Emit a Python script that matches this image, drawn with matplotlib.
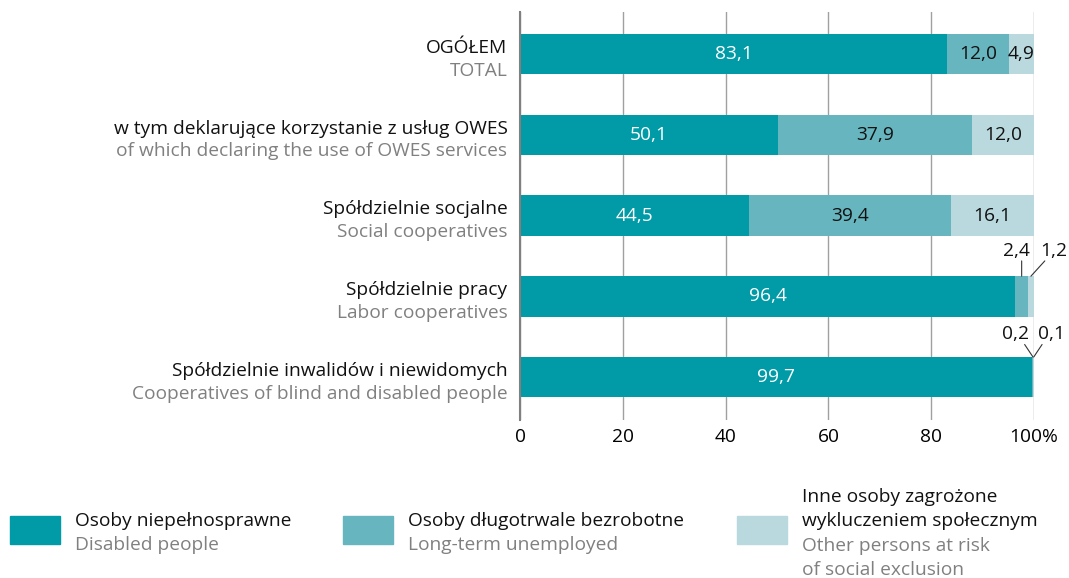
import numpy as np
import matplotlib.pyplot as plt
from matplotlib.patches import Rectangle

# categories (top to bottom)
labels_pl = ['OGÓŁEM', 'w tym deklarujące korzystanie z usług OWES', 'Spółdzielnie socjalne',
             'Spółdzielnie pracy', 'Spółdzielnie inwalidów i niewidomych']
labels_en = ['TOTAL', 'of which declaring the use of OWES services', 'Social cooperatives',
             'Labor cooperatives', 'Cooperatives of blind and disabled people']

# series (%)
disabled = [83.1, 50.1, 44.5, 96.4, 99.7]
unemployed = [12.0, 37.9, 39.4, 2.4, 0.2]
other = [4.9, 12.0, 16.1, 1.2, 0.1]

series_pl = [['Osoby niepełnosprawne'], ['Osoby długotrwale bezrobotne'],
             ['Inne osoby zagrożone', 'wykluczeniem społecznym']]
series_en = [['Disabled people'], ['Long-term unemployed'],
             ['Other persons at risk', 'of social exclusion']]
colors = ['#009ba7', '#67b5be', '#b9d9de']
txt_colors = ['white', '#111111', '#111111']

xticks = [0, 20, 40, 60, 80, 100]
xticklabels = ['0', '20', '40', '60', '80', '100%']

plt.rcParams['font.family'] = ['Open Sans', 'DejaVu Sans']
fs = 13.8
grey = '#808080'

fig = plt.figure(figsize=(10.69, 5.78), dpi=100)
ax = fig.add_axes([520 / 1069, 1 - 420 / 578, (1034 - 520) / 1069, (420 - 12) / 578])

y = np.arange(len(labels_pl))
data = [disabled, unemployed, other]
left = np.zeros(len(y))
for i, vals in enumerate(data):
    vals = np.array(vals)
    ax.barh(y, vals, left=left, height=0.5, color=colors[i], zorder=3)
    for j, v in enumerate(vals):
        if v >= 4:
            ax.text(left[j] + v / 2, y[j], f'{v:.1f}'.replace('.', ','), ha='center', va='center',
                    color=txt_colors[i], fontsize=fs, zorder=4)
    left += vals

# small segments annotated outside, leader line drawn separately from the text
def note(xv, yv, val, lx, ly, tx, ha):
    ax.annotate('', xy=(xv, yv - 0.25), xytext=(lx, ly), textcoords='offset points',
                arrowprops=dict(arrowstyle='-', color='#333333', lw=0.8, shrinkA=0, shrinkB=0),
                annotation_clip=False)
    ax.annotate(val, xy=(xv, yv - 0.25), xytext=(tx, ly + 1), textcoords='offset points',
                ha=ha, va='bottom', fontsize=fs, color='#111111', annotation_clip=False)

note(disabled[3] + unemployed[3] / 2, 3, '2,4', 0, 11, -4, 'center')
note(disabled[3] + unemployed[3] + other[3] / 2, 3, '1,2', 10, 11, 7, 'left')
note(disabled[4] + unemployed[4] / 2, 4, '0,2', -6, 9, -3, 'right')
note(disabled[4] + unemployed[4] + other[4] / 2, 4, '0,1', 6, 9, 3, 'left')

ax.set_ylim(4.53, -0.52)
ax.set_xlim(0, 100)
ax.set_xticks(xticks)
ax.set_xticklabels(xticklabels, fontsize=fs)
ax.tick_params(axis='x', length=0, pad=6)
ax.set_yticks([])
ax.grid(axis='x', color='#a0a0a0', lw=1, zorder=0)
for s in ['top', 'right', 'bottom']:
    ax.spines[s].set_visible(False)
ax.spines['left'].set_color('#808080')
ax.spines['left'].set_linewidth(1.5)
ax.spines['left'].set_zorder(5)

for j in y:
    ax.annotate(labels_pl[j], xy=(0, j), xycoords=('axes fraction', 'data'), xytext=(-9, 4.5),
                textcoords='offset points', ha='right', va='center', fontsize=fs, color='#111111')
    ax.annotate(labels_en[j], xy=(0, j), xycoords=('axes fraction', 'data'), xytext=(-9, -12),
                textcoords='offset points', ha='right', va='center', fontsize=fs, color=grey)

# legend
W, H = 1069, 578
leg_x = [10, 343, 737]
for i in range(3):
    fig.patches.append(Rectangle((leg_x[i] / W, 1 - 544 / H), 50 / W, 28 / H,
                                 transform=fig.transFigure, color=colors[i]))
    tx = (leg_x[i] + 65) / W
    y0 = 521 if i < 2 else 497
    lines = [(t, '#111111') for t in series_pl[i]] + [(t, grey) for t in series_en[i]]
    for k, (t, c) in enumerate(lines):
        fig.text(tx, 1 - (y0 + 24.3 * k) / H, t, fontsize=fs, color=c, va='center')

fig.savefig('out.png', dpi=100)
